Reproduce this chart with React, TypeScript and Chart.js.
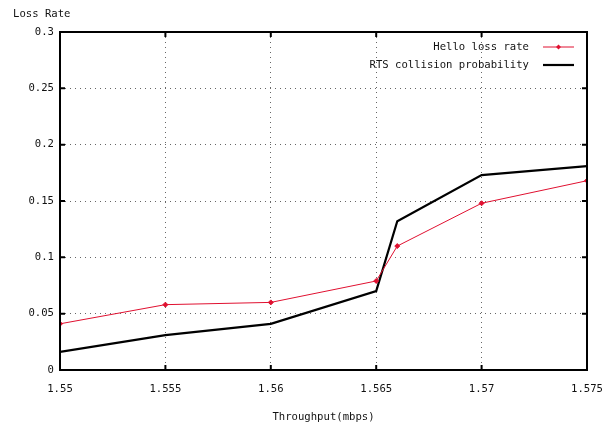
import { useEffect, useRef } from "react";
import { Chart, registerables } from "chart.js";

Chart.register(...registerables);

const throughput = [1.55, 1.555, 1.56, 1.565, 1.566, 1.57, 1.575];
const helloLoss = [0.041, 0.058, 0.06, 0.079, 0.11, 0.148, 0.168];
const rtsCollision = [0.016, 0.031, 0.041, 0.07, 0.132, 0.173, 0.181];
const xTicks = [1.55, 1.555, 1.56, 1.565, 1.57, 1.575];
const yTicks = [0, 0.05, 0.1, 0.15, 0.2, 0.25, 0.3];
const seriesLabels = ["Hello loss rate", "RTS collision probability"];
const yAxisTitle = "Loss Rate";
const xAxisTitle = "Throughput(mbps)";

const FONT_FAMILY = '"DejaVu Sans Mono", "Liberation Mono", monospace';
const FONT_SIZE = 10.6;
const RED = "#e01030";
const TEXT = "#111";

const fmt = (v: number) => String(Number(Number(v).toFixed(4)));

const decorPlugin = {
  id: "decor",
  afterDatasetsDraw(chart: any) {
    const { ctx, chartArea } = chart;
    const { left, right, top, bottom } = chartArea;
    const xs = chart.scales.x;
    const ys = chart.scales.y;
    ctx.save();
    ctx.strokeStyle = "#000";
    ctx.lineWidth = 2;
    ctx.setLineDash([]);
    ctx.strokeRect(left, top, right - left, bottom - top);
    const tl = 5;
    ctx.beginPath();
    xTicks.forEach((v) => {
      const px = xs.getPixelForValue(v);
      ctx.moveTo(px, bottom);
      ctx.lineTo(px, bottom - tl);
      ctx.moveTo(px, top);
      ctx.lineTo(px, top + tl);
    });
    yTicks.forEach((v) => {
      const py = ys.getPixelForValue(v);
      ctx.moveTo(left, py);
      ctx.lineTo(left + tl, py);
      ctx.moveTo(right, py);
      ctx.lineTo(right - tl, py);
    });
    ctx.stroke();

    ctx.font = `${FONT_SIZE}px ${FONT_FAMILY}`;
    ctx.fillStyle = TEXT;
    ctx.textAlign = "left";
    ctx.textBaseline = "middle";
    ctx.fillText(yAxisTitle, 13, 14);

    const textRight = right - 58;
    const sx0 = right - 44;
    const sx1 = right - 13;
    const rows = [top + 15, top + 33];
    ctx.textAlign = "right";
    chart.data.datasets.forEach((ds: any, i: number) => {
      const y = rows[i];
      ctx.fillStyle = TEXT;
      ctx.fillText(ds.label, textRight, y);
      ctx.strokeStyle = ds.borderColor;
      ctx.lineWidth = ds.borderWidth;
      ctx.beginPath();
      ctx.moveTo(sx0, y);
      ctx.lineTo(sx1, y);
      ctx.stroke();
      if (ds.pointRadius > 0) {
        const cx = (sx0 + sx1) / 2;
        const r = ds.pointRadius;
        ctx.fillStyle = ds.borderColor;
        ctx.beginPath();
        ctx.moveTo(cx, y - r);
        ctx.lineTo(cx + r, y);
        ctx.lineTo(cx, y + r);
        ctx.lineTo(cx - r, y);
        ctx.closePath();
        ctx.fill();
      }
    });
    ctx.restore();
  },
};

export default function App() {
  const ref = useRef<HTMLCanvasElement | null>(null);

  useEffect(() => {
    if (!ref.current) return;
    const gridColor = (n: number) => (c: any) =>
      c.index === 0 || c.index === n - 1 ? "rgba(0,0,0,0)" : "rgba(0,0,0,0.6)";
    const chart = new Chart(ref.current, {
      type: "line",
      data: {
        datasets: [
          {
            label: seriesLabels[0],
            data: throughput.map((x, i) => ({ x, y: helloLoss[i] })),
            borderColor: RED,
            backgroundColor: RED,
            borderWidth: 1,
            pointRadius: 2.5,
            pointStyle: "rectRot",
            pointBorderWidth: 1,
            tension: 0,
            order: 1,
          },
          {
            label: seriesLabels[1],
            data: throughput.map((x, i) => ({ x, y: rtsCollision[i] })),
            borderColor: "#000",
            backgroundColor: "#000",
            borderWidth: 2.2,
            pointRadius: 0,
            tension: 0,
            order: 2,
          },
        ],
      },
      options: {
        animation: false,
        responsive: false,
        devicePixelRatio: 1,
        layout: { padding: { top: 32, right: 20, left: 0, bottom: 0 } },
        plugins: {
          legend: { display: false },
          tooltip: { enabled: false },
        },
        scales: {
          x: {
            type: "linear",
            min: xTicks[0],
            max: xTicks[xTicks.length - 1],
            afterBuildTicks: (s: any) => {
              s.ticks = xTicks.map((value) => ({ value }));
            },
            afterFit: (s: any) => {
              s.height = 57;
              s.paddingLeft = 0;
              s.paddingRight = 0;
            },
            ticks: {
              autoSkip: false,
              maxRotation: 0,
              padding: 13,
              color: TEXT,
              font: { family: FONT_FAMILY, size: FONT_SIZE },
              callback: (v: any) => fmt(v),
            },
            grid: {
              drawTicks: false,
              color: gridColor(xTicks.length),
              lineWidth: 1,
              borderDash: [1, 4],
            } as any,
            border: { display: false, dash: [1, 4] },
            title: {
              display: true,
              text: xAxisTitle,
              color: TEXT,
              font: { family: FONT_FAMILY, size: FONT_SIZE },
              padding: { top: 0, bottom: 3 },
            },
          },
          y: {
            type: "linear",
            min: yTicks[0],
            max: yTicks[yTicks.length - 1],
            afterBuildTicks: (s: any) => {
              s.ticks = yTicks.map((value) => ({ value }));
            },
            afterFit: (s: any) => {
              s.width = 60;
              s.paddingTop = 0;
              s.paddingBottom = 0;
            },
            ticks: {
              autoSkip: false,
              padding: 6,
              color: TEXT,
              font: { family: FONT_FAMILY, size: FONT_SIZE },
              callback: (v: any) => fmt(v),
            },
            grid: {
              drawTicks: false,
              color: gridColor(yTicks.length),
              lineWidth: 1,
              borderDash: [1, 4],
            } as any,
            border: { display: false, dash: [1, 4] },
          },
        },
      },
      plugins: [decorPlugin],
    } as any);
    return () => chart.destroy();
  }, []);

  return (
    <div style={{ position: "absolute", left: 0, top: 0, width: 607, height: 427, background: "#fff" }}>
      <canvas ref={ref} width={607} height={427} style={{ display: "block", width: 607, height: 427 }} />
    </div>
  );
}
